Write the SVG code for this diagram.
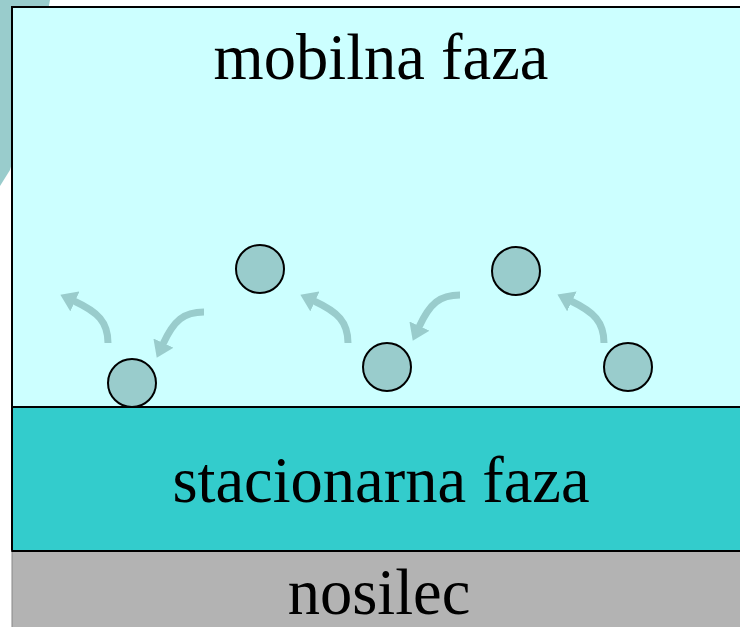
<svg xmlns="http://www.w3.org/2000/svg" width="740" height="627" viewBox="0 0 740 627">
  <defs>
    <style>
      .lbl { font-family: "Liberation Serif", "Times New Roman", serif; font-size: 64.5px; fill: #000; text-anchor: middle; }
      .mol { fill: #99cccc; stroke: #000; stroke-width: 2; }
      .arr { fill: none; stroke: #99cccc; stroke-width: 7; marker-end: url(#head); }
    </style>
    <marker id="head" viewBox="0 -11 16 22" refX="1" refY="0" markerWidth="16" markerHeight="22" markerUnits="userSpaceOnUse" orient="auto">
      <path d="M0,-11 L16,0 L0,11 Z" fill="#99cccc"/>
    </marker>
  </defs>

  <path id="backdrop" d="M0,0 L50,0 Q35,90 10,170 L0,186 Z" fill="#99cccc"/>

  <g id="mobilna-faza">
    <rect x="12" y="7" width="740" height="400" fill="#ccffff" stroke="#000" stroke-width="2"/>
    <text class="lbl" x="381" y="79">mobilna faza</text>
  </g>

  <g id="stacionarna-faza">
    <rect x="12" y="407" width="740" height="144" fill="#33cccc" stroke="#000" stroke-width="2"/>
    <text class="lbl" x="381" y="502">stacionarna faza</text>
  </g>

  <g id="nosilec">
    <rect x="12" y="551" width="740" height="90" fill="#b3b3b3" stroke="#888" stroke-width="1"/>
    <line x1="12" y1="551" x2="740" y2="551" stroke="#000" stroke-width="2"/>
    <text class="lbl" x="379" y="614">nosilec</text>
  </g>

  <g id="molecules">
    <circle id="m1" class="mol" cx="132" cy="383" r="24"/>
    <circle id="m2" class="mol" cx="260" cy="269" r="24"/>
    <circle id="m3" class="mol" cx="387" cy="367" r="24"/>
    <circle id="m4" class="mol" cx="516" cy="271" r="24"/>
    <circle id="m5" class="mol" cx="628" cy="367" r="24"/>
  </g>

  <g id="connectors">
    <path class="arr" d="M108,343 C108,322 98,312 74,301"/>
    <path class="arr" d="M204,312 C184,312 174,320 163,344"/>
    <path class="arr" d="M348,343 C348,322 338,312 314,301"/>
    <path class="arr" d="M460,295 C440,295 430,303 419,327"/>
    <path class="arr" d="M604,343 C604,322 594,312 571,301"/>
  </g>
</svg>
